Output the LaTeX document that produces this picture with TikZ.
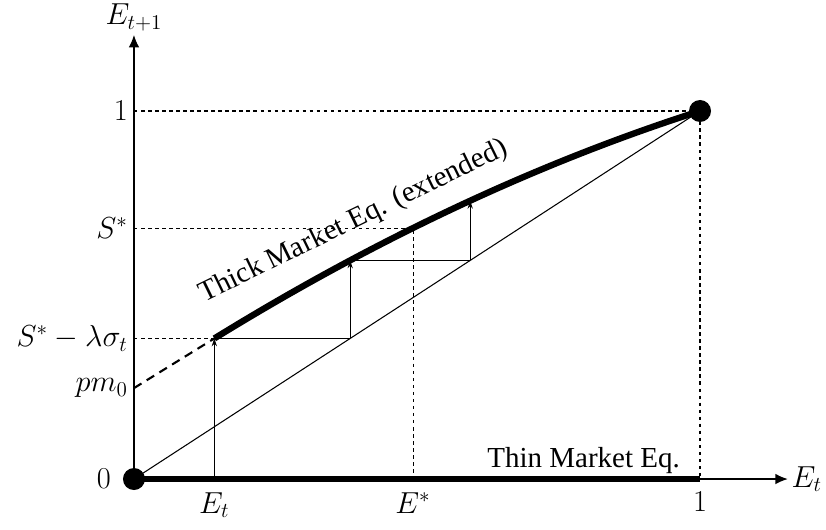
\documentclass[tikz,border=0pt]{standalone}
\usepackage{amsmath}
\usepackage{fontspec}
\setmainfont{Liberation Serif}
\usetikzlibrary{arrows.meta, positioning}

\begin{document}
\begin{tikzpicture}[
        x=11.32cm, y=7.36cm,
        >={Latex[length=7pt,width=6pt]},
        font=\fontsize{16.5}{19}\selectfont,
        axis/.style={->, line width=0.7pt},
        eqline/.style={line width=3.6pt},
        guide/.style={line width=0.6pt, dash pattern=on 2pt off 2pt},
        extline/.style={line width=1.2pt, dash pattern=on 5pt off 3.5pt},
        plainline/.style={line width=0.6pt},
        cobarrow/.style={-{Stealth[length=4.5pt,width=3pt]}, line width=0.6pt},
        dot/.style={circle, fill, inner sep=0pt, minimum size=0.44cm}
    ]
        \useasboundingbox (-0.2367,-0.1359) rectangle (1.2226,1.3016);

        % points of the figure
        \coordinate (o) at (0,0);
        \coordinate (xend) at (1.155,0);
        \coordinate (yend) at (0,1.2065);
        \coordinate (top) at (1,1);
        \coordinate (xone) at (1,0);
        \coordinate (yone) at (0,1);
        \coordinate (start) at (0.142,0.382);
        \coordinate (pm) at (0,0.247);
        \coordinate (slow) at (0,0.382);
        \coordinate (et) at (0.142,0);
        \coordinate (ss) at (0,0.682);
        \coordinate (es) at (0.493,0.682);
        \coordinate (estar) at (0.493,0);
        \coordinate (b1) at (0.382,0.382);
        \coordinate (b2) at (0.382,0.594);
        \coordinate (c1) at (0.594,0.594);
        \coordinate (c2) at (0.594,0.756);

        % guides
        \draw[guide] (yone) -- (top) -- (xone);
        \draw[guide] (ss) -- (es) -- (estar);
        \draw[guide] (slow) -- (start);
        \draw[extline] (pm) -- (start);

        % 45 degree line and cobweb
        \draw[plainline] (o) -- (top);
        \draw[cobarrow] (et) -- (start);
        \draw[plainline] (start) -- (b1);
        \draw[cobarrow] (b1) -- (b2);
        \draw[plainline] (b2) -- (c1);
        \draw[cobarrow] (c1) -- (c2);

        % equilibria
        \draw[eqline] (start) .. controls (0.4283,0.6533) and (0.7143,0.8593) .. (top);
        \draw[eqline] (o) -- (xone);

        % axes
        \draw[axis] (o) -- (xend);
        \draw[axis] (o) -- (yend);

        \node[dot] (d0) at (o) {};
        \node[dot] (d1) at (top) {};

        % labels
        \node[right, inner sep=2pt] (lx) at (xend) {$E_t$};
        \node[above, inner sep=2pt] (ly) at (yend) {$E_{t+1}$};
        \node[left] (l0) at (-0.03,0) {$0$};
        \node[left] (l1) at (yone) {$1$};
        \node[left] (lss) at (ss) {$S^*$};
        \node[left] (lsl) at (slow) {$S^*-\lambda\sigma_t$};
        \node[left] (lpm) at (pm) {$pm_0$};
        \node[below=4pt] (let) at (et) {$E_t$};
        \node[below=4pt] (les) at (estar) {$E^*$};
        \node[below=4pt] (lone) at (xone) {$1$};
        \node[rotate=26, anchor=base west, inner sep=0pt] (thick) at (0.124,0.48) {Thick Market Eq. (extended)};
        \node[anchor=base east, inner sep=0pt] (thin) at (0.965,0.03) {Thin Market Eq.};
\end{tikzpicture}
\end{document}
